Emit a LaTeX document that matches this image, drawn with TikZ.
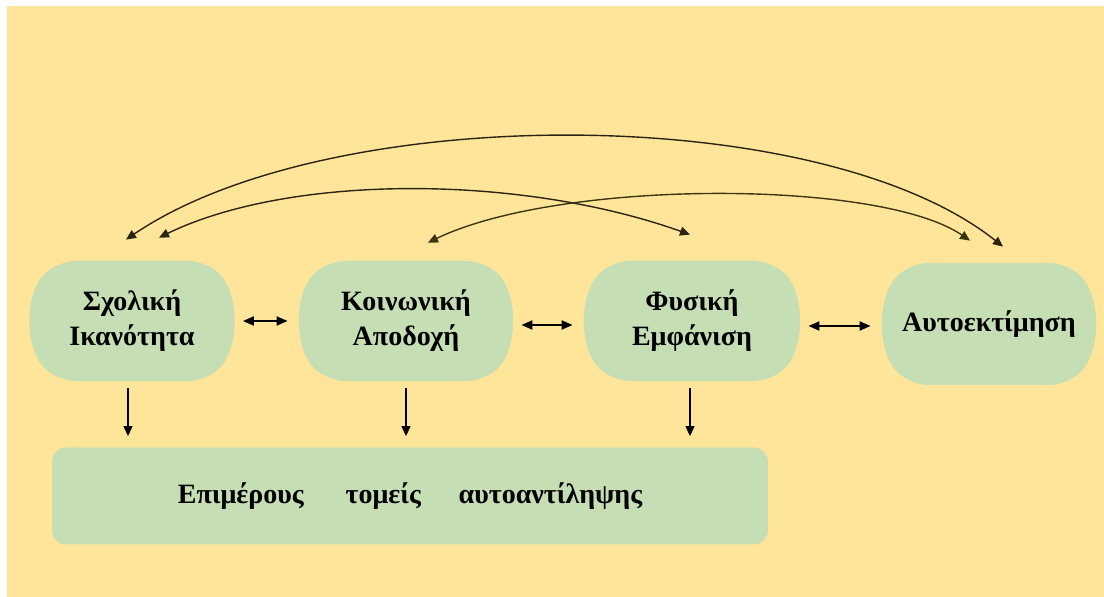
\documentclass[tikz,border=0pt]{standalone}
\usepackage{fontspec}
\setmainfont{Liberation Serif}
\usepackage{xcolor}
\usepackage{tikz}
\usetikzlibrary{positioning,arrows.meta,shapes.misc}

\definecolor{bgyellow}{HTML}{FFE599}
\definecolor{boxgreen}{HTML}{C5DEB4}
\definecolor{arcdark}{HTML}{2B2414}

\begin{document}
\begin{tikzpicture}[x=0.5pt, y=-0.5pt,
    areabox/.style={rounded rectangle, rounded rectangle arc length=90, rounded corners=9pt,
        fill=boxgreen, inner sep=0pt, minimum height=60pt, align=center,
        font=\fontsize{14}{17.5}\selectfont\bfseries},
    basebox/.style={rectangle, rounded corners=7pt, fill=boxgreen, inner sep=0pt,
        font=\fontsize{14}{17.5}\selectfont\bfseries},
    curvelink/.style={arcdark, line width=0.7pt, {Triangle[length=5pt,width=4.5pt]}-{Triangle[length=5pt,width=4.5pt]}},
    pairlink/.style={black, line width=1pt, {Triangle[length=5.5pt,width=4.5pt]}-{Triangle[length=5.5pt,width=4.5pt]},
        shorten <=5.5pt, shorten >=7pt},
    downlink/.style={black, line width=0.6pt, -{Triangle[length=5pt,width=4.5pt]},
        shorten <=3.5pt, shorten >=5.5pt}]
\useasboundingbox (0,0) rectangle (1104,597);
\fill[bgyellow] (7,6) rectangle (1104,597);

\node[areabox, minimum width=99.5pt] (sxol) at (132,321) {Σχολική\\Ικανότητα};
\node[areabox, minimum width=104pt] (koin) at (406,321) {Κοινωνική\\Αποδοχή};
\node[areabox, minimum width=105pt] (fys) at (692,321) {Φυσική\\Εμφάνιση};
\node[areabox, minimum width=104pt, minimum height=61pt] (auto) at (989,324) {Αυτοεκτίμηση};

\node[basebox, minimum width=358pt, minimum height=48.5pt] (base) at (410,496)
    {Επιμέρους\hspace{1.25em} τομείς\hspace{1.1em} αυτοαντίληψης};

\draw[pairlink] (sxol.east) -- (koin.west);
\draw[pairlink] ([yshift=-2pt]koin.east) -- ([yshift=-2pt]fys.west);
\draw[pairlink] ([yshift=-2.5pt]fys.east) -- ([yshift=-2.5pt]fys.east -| auto.west);

\draw[downlink] ([xshift=-2pt]sxol.south) -- ([xshift=-2pt]sxol.south |- base.north);
\draw[downlink] (koin.south) -- (koin.south |- base.north);
\draw[downlink] ([xshift=-1pt]fys.south) -- ([xshift=-1pt]fys.south |- base.north);

\draw[curvelink] ([shift={(-6,-21)}]sxol.north) .. controls (330,101) and (820,101) .. ([shift={(14,-16)}]auto.north);
\draw[curvelink] ([shift={(27,-23)}]sxol.north) .. controls (290,174) and (520,174) .. ([shift={(-2,-26)}]fys.north);
\draw[curvelink, arcdark!80!olive] ([shift={(22,-18)}]koin.north) .. controls (560,179) and (880,179) .. ([shift={(-19,-22)}]auto.north);

\end{tikzpicture}
\end{document}
